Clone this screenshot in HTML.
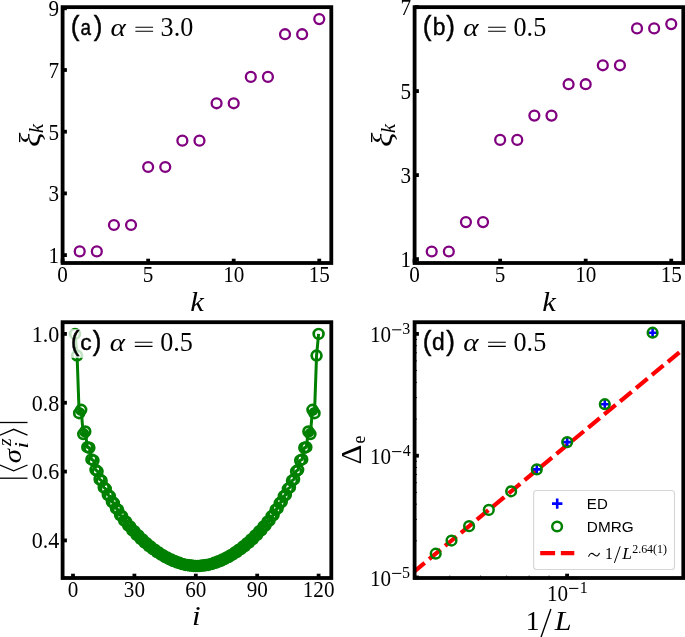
<!DOCTYPE html>
<html><head><meta charset="utf-8"><title>figure</title>
<style>html,body{margin:0;padding:0;background:#fff}body{width:685px;height:637px;overflow:hidden;font-family:"Liberation Sans",sans-serif}</style></head>
<body>
<svg width="685" height="637" viewBox="0 0 685 637" style="display:block;will-change:transform">
<rect width="685" height="637" fill="#fff"/>
<circle cx="79.71" cy="251.40" r="4.95" fill="none" stroke="#800080" stroke-width="2.3"/>
<circle cx="96.82" cy="251.40" r="4.95" fill="none" stroke="#800080" stroke-width="2.3"/>
<circle cx="113.93" cy="225.00" r="4.95" fill="none" stroke="#800080" stroke-width="2.3"/>
<circle cx="131.04" cy="225.00" r="4.95" fill="none" stroke="#800080" stroke-width="2.3"/>
<circle cx="148.15" cy="167.00" r="4.95" fill="none" stroke="#800080" stroke-width="2.3"/>
<circle cx="165.26" cy="167.00" r="4.95" fill="none" stroke="#800080" stroke-width="2.3"/>
<circle cx="182.37" cy="140.65" r="4.95" fill="none" stroke="#800080" stroke-width="2.3"/>
<circle cx="199.48" cy="140.65" r="4.95" fill="none" stroke="#800080" stroke-width="2.3"/>
<circle cx="216.59" cy="103.30" r="4.95" fill="none" stroke="#800080" stroke-width="2.3"/>
<circle cx="233.70" cy="103.30" r="4.95" fill="none" stroke="#800080" stroke-width="2.3"/>
<circle cx="250.81" cy="76.90" r="4.95" fill="none" stroke="#800080" stroke-width="2.3"/>
<circle cx="267.92" cy="76.90" r="4.95" fill="none" stroke="#800080" stroke-width="2.3"/>
<circle cx="285.03" cy="34.20" r="4.95" fill="none" stroke="#800080" stroke-width="2.3"/>
<circle cx="302.14" cy="34.20" r="4.95" fill="none" stroke="#800080" stroke-width="2.3"/>
<circle cx="319.25" cy="19.10" r="4.95" fill="none" stroke="#800080" stroke-width="2.3"/>
<rect x="62.60" y="7.15" width="268.70" height="255.85" fill="none" stroke="#000" stroke-width="3.8"/>
<line x1="62.60" y1="263.00" x2="62.60" y2="258.70" stroke="#000" stroke-width="3.8"/>
<text transform="translate(62.60,282.40) scale(0.94,1)" font-size="22.5" text-anchor="middle" font-family="Liberation Serif, serif" >0</text>
<line x1="148.15" y1="263.00" x2="148.15" y2="258.70" stroke="#000" stroke-width="3.8"/>
<text transform="translate(148.15,282.40) scale(0.94,1)" font-size="22.5" text-anchor="middle" font-family="Liberation Serif, serif" >5</text>
<line x1="233.70" y1="263.00" x2="233.70" y2="258.70" stroke="#000" stroke-width="3.8"/>
<text transform="translate(233.70,282.40) scale(0.94,1)" font-size="22.5" text-anchor="middle" font-family="Liberation Serif, serif" >10</text>
<line x1="319.25" y1="263.00" x2="319.25" y2="258.70" stroke="#000" stroke-width="3.8"/>
<text transform="translate(319.25,282.40) scale(0.94,1)" font-size="22.5" text-anchor="middle" font-family="Liberation Serif, serif" >15</text>
<line x1="62.60" y1="8.30" x2="66.90" y2="8.30" stroke="#000" stroke-width="3.8"/>
<text transform="translate(59.10,16.10) scale(0.94,1)" font-size="22.5" text-anchor="end" font-family="Liberation Serif, serif" >9</text>
<line x1="62.60" y1="70.00" x2="66.90" y2="70.00" stroke="#000" stroke-width="3.8"/>
<text transform="translate(59.10,77.80) scale(0.94,1)" font-size="22.5" text-anchor="end" font-family="Liberation Serif, serif" >7</text>
<line x1="62.60" y1="131.70" x2="66.90" y2="131.70" stroke="#000" stroke-width="3.8"/>
<text transform="translate(59.10,139.50) scale(0.94,1)" font-size="22.5" text-anchor="end" font-family="Liberation Serif, serif" >5</text>
<line x1="62.60" y1="193.40" x2="66.90" y2="193.40" stroke="#000" stroke-width="3.8"/>
<text transform="translate(59.10,201.20) scale(0.94,1)" font-size="22.5" text-anchor="end" font-family="Liberation Serif, serif" >3</text>
<line x1="62.60" y1="255.10" x2="66.90" y2="255.10" stroke="#000" stroke-width="3.8"/>
<text transform="translate(59.10,262.90) scale(0.94,1)" font-size="22.5" text-anchor="end" font-family="Liberation Serif, serif" >1</text>
<text transform="translate(190.15,310.80) scale(1.1,1.0)" font-size="27.8" font-family="Liberation Serif, serif" font-style="italic">k</text>
<g transform="translate(39.50,145.9) rotate(-90)">
<text transform="translate(-1.14,0.00) scale(1.15,1.0)" font-size="29.1" font-family="Liberation Serif, serif" font-style="italic">ξ</text>
<text x="12.92" y="3.60" font-size="20.3" font-family="Liberation Serif, serif" font-style="italic">k</text>
</g>
<circle cx="431.71" cy="251.50" r="4.95" fill="none" stroke="#800080" stroke-width="2.3"/>
<circle cx="448.82" cy="251.50" r="4.95" fill="none" stroke="#800080" stroke-width="2.3"/>
<circle cx="465.93" cy="222.10" r="4.95" fill="none" stroke="#800080" stroke-width="2.3"/>
<circle cx="483.04" cy="222.10" r="4.95" fill="none" stroke="#800080" stroke-width="2.3"/>
<circle cx="500.15" cy="139.90" r="4.95" fill="none" stroke="#800080" stroke-width="2.3"/>
<circle cx="517.26" cy="139.90" r="4.95" fill="none" stroke="#800080" stroke-width="2.3"/>
<circle cx="534.37" cy="115.60" r="4.95" fill="none" stroke="#800080" stroke-width="2.3"/>
<circle cx="551.48" cy="115.60" r="4.95" fill="none" stroke="#800080" stroke-width="2.3"/>
<circle cx="568.59" cy="84.20" r="4.95" fill="none" stroke="#800080" stroke-width="2.3"/>
<circle cx="585.70" cy="84.20" r="4.95" fill="none" stroke="#800080" stroke-width="2.3"/>
<circle cx="602.81" cy="65.30" r="4.95" fill="none" stroke="#800080" stroke-width="2.3"/>
<circle cx="619.92" cy="65.30" r="4.95" fill="none" stroke="#800080" stroke-width="2.3"/>
<circle cx="637.03" cy="28.40" r="4.95" fill="none" stroke="#800080" stroke-width="2.3"/>
<circle cx="654.14" cy="28.40" r="4.95" fill="none" stroke="#800080" stroke-width="2.3"/>
<circle cx="671.25" cy="24.10" r="4.95" fill="none" stroke="#800080" stroke-width="2.3"/>
<rect x="414.60" y="7.15" width="268.70" height="255.85" fill="none" stroke="#000" stroke-width="3.8"/>
<line x1="414.60" y1="263.00" x2="414.60" y2="258.70" stroke="#000" stroke-width="3.8"/>
<text transform="translate(414.60,282.40) scale(0.94,1)" font-size="22.5" text-anchor="middle" font-family="Liberation Serif, serif" >0</text>
<line x1="500.15" y1="263.00" x2="500.15" y2="258.70" stroke="#000" stroke-width="3.8"/>
<text transform="translate(500.15,282.40) scale(0.94,1)" font-size="22.5" text-anchor="middle" font-family="Liberation Serif, serif" >5</text>
<line x1="585.70" y1="263.00" x2="585.70" y2="258.70" stroke="#000" stroke-width="3.8"/>
<text transform="translate(585.70,282.40) scale(0.94,1)" font-size="22.5" text-anchor="middle" font-family="Liberation Serif, serif" >10</text>
<line x1="671.25" y1="263.00" x2="671.25" y2="258.70" stroke="#000" stroke-width="3.8"/>
<text transform="translate(671.25,282.40) scale(0.94,1)" font-size="22.5" text-anchor="middle" font-family="Liberation Serif, serif" >15</text>
<line x1="414.60" y1="7.15" x2="418.90" y2="7.15" stroke="#000" stroke-width="3.8"/>
<text transform="translate(411.10,14.95) scale(0.94,1)" font-size="22.5" text-anchor="end" font-family="Liberation Serif, serif" >7</text>
<line x1="414.60" y1="91.10" x2="418.90" y2="91.10" stroke="#000" stroke-width="3.8"/>
<text transform="translate(411.10,98.90) scale(0.94,1)" font-size="22.5" text-anchor="end" font-family="Liberation Serif, serif" >5</text>
<line x1="414.60" y1="175.10" x2="418.90" y2="175.10" stroke="#000" stroke-width="3.8"/>
<text transform="translate(411.10,182.90) scale(0.94,1)" font-size="22.5" text-anchor="end" font-family="Liberation Serif, serif" >3</text>
<line x1="414.60" y1="259.10" x2="418.90" y2="259.10" stroke="#000" stroke-width="3.8"/>
<text transform="translate(411.10,266.90) scale(0.94,1)" font-size="22.5" text-anchor="end" font-family="Liberation Serif, serif" >1</text>
<text transform="translate(542.15,310.80) scale(1.1,1.0)" font-size="27.8" font-family="Liberation Serif, serif" font-style="italic">k</text>
<g transform="translate(391.50,145.9) rotate(-90)">
<text transform="translate(-1.14,0.00) scale(1.15,1.0)" font-size="29.1" font-family="Liberation Serif, serif" font-style="italic">ξ</text>
<text x="12.92" y="3.60" font-size="20.3" font-family="Liberation Serif, serif" font-style="italic">k</text>
</g>
<text transform="translate(70.68,35.00) scale(0.92,1.0)" font-size="28.4" font-family="Liberation Sans, sans-serif" stroke="#000" stroke-width="0.45">(</text>
<text transform="translate(80.50,34.60) scale(0.83,1.0)" font-size="22.8" font-family="Liberation Sans, sans-serif" stroke="#000" stroke-width="0.4">a</text>
<text transform="translate(93.65,35.00) scale(0.92,1.0)" font-size="28.4" font-family="Liberation Sans, sans-serif" stroke="#000" stroke-width="0.45">)</text>
<text transform="translate(110.43,35.50) scale(1.12,1.0)" font-size="26" font-family="Liberation Serif, serif" font-style="italic">α</text>
<path d="M135.40,27.20h17.7M135.40,31.30h17.7" stroke="#000" stroke-width="1.05" fill="none"/>
<text transform="translate(160.55,35.50) scale(0.97,1.0)" font-size="27" font-family="Liberation Serif, serif">3.0</text>
<text transform="translate(422.68,35.00) scale(0.92,1.0)" font-size="28.4" font-family="Liberation Sans, sans-serif" stroke="#000" stroke-width="0.45">(</text>
<text transform="translate(432.83,34.60) scale(1.0,1.086)" font-size="22.8" font-family="Liberation Sans, sans-serif" stroke="#000" stroke-width="0.4">b</text>
<text transform="translate(446.15,35.00) scale(0.92,1.0)" font-size="28.4" font-family="Liberation Sans, sans-serif" stroke="#000" stroke-width="0.45">)</text>
<text transform="translate(463.13,35.50) scale(1.12,1.0)" font-size="26" font-family="Liberation Serif, serif" font-style="italic">α</text>
<path d="M488.10,27.20h17.7M488.10,31.30h17.7" stroke="#000" stroke-width="1.05" fill="none"/>
<text transform="translate(513.50,35.50) scale(0.97,1.0)" font-size="27" font-family="Liberation Serif, serif">0.5</text>
<clipPath id="cc"><rect x="62.6" y="322.2" width="268.7" height="255.8"/></clipPath>
<g clip-path="url(#cc)">
<polyline fill="none" stroke="#008000" stroke-width="3.0" stroke-linejoin="round" points="75.05,333.90 77.09,355.58 79.14,413.17 81.19,409.87 83.23,434.09 85.28,431.49 87.33,447.19 89.37,447.79 91.42,459.38 93.47,460.38 95.51,469.80 97.56,471.30 99.61,479.26 101.65,480.76 103.70,487.35 105.75,488.85 107.79,494.76 109.84,496.18 111.89,501.72 113.93,503.06 115.98,508.35 118.03,509.68 120.07,514.98 122.12,516.20 124.17,520.65 126.21,521.69 128.26,525.64 130.31,526.60 132.35,530.35 134.40,531.25 136.45,534.71 138.49,535.53 140.54,538.72 142.59,539.50 144.63,542.50 146.68,543.22 148.73,545.96 150.77,546.62 152.82,549.13 154.87,549.74 156.91,552.06 158.96,552.61 161.01,554.69 163.05,555.17 165.10,557.02 167.15,557.46 169.19,559.15 171.24,559.54 173.29,560.97 175.33,561.30 177.38,562.50 179.43,562.80 181.48,563.90 183.52,564.14 185.57,564.94 187.62,565.08 189.66,565.52 191.71,565.61 193.76,565.91 195.80,565.96 197.85,565.96 199.90,565.91 201.94,565.61 203.99,565.52 206.04,565.08 208.08,564.94 210.13,564.14 212.18,563.90 214.22,562.80 216.27,562.50 218.32,561.30 220.36,560.97 222.41,559.54 224.46,559.15 226.50,557.46 228.55,557.02 230.60,555.17 232.64,554.69 234.69,552.61 236.74,552.06 238.78,549.74 240.83,549.13 242.88,546.62 244.92,545.96 246.97,543.22 249.02,542.50 251.06,539.50 253.11,538.72 255.16,535.53 257.20,534.71 259.25,531.25 261.30,530.35 263.34,526.60 265.39,525.64 267.44,521.69 269.48,520.65 271.53,516.20 273.58,514.98 275.62,509.68 277.67,508.35 279.72,503.06 281.76,501.72 283.81,496.18 285.86,494.76 287.90,488.85 289.95,487.35 292.00,480.76 294.04,479.26 296.09,471.30 298.14,469.80 300.18,460.38 302.23,459.38 304.28,447.79 306.32,447.19 308.37,431.49 310.42,434.09 312.46,409.87 314.51,413.17 316.56,355.58 318.60,333.90"/>
<circle cx="75.05" cy="333.90" r="4.9" fill="none" stroke="#008000" stroke-width="2.7"/>
<circle cx="77.09" cy="355.58" r="4.9" fill="none" stroke="#008000" stroke-width="2.7"/>
<circle cx="79.14" cy="413.17" r="4.9" fill="none" stroke="#008000" stroke-width="2.7"/>
<circle cx="81.19" cy="409.87" r="4.9" fill="none" stroke="#008000" stroke-width="2.7"/>
<circle cx="83.23" cy="434.09" r="4.9" fill="none" stroke="#008000" stroke-width="2.7"/>
<circle cx="85.28" cy="431.49" r="4.9" fill="none" stroke="#008000" stroke-width="2.7"/>
<circle cx="87.33" cy="447.19" r="4.9" fill="none" stroke="#008000" stroke-width="2.7"/>
<circle cx="89.37" cy="447.79" r="4.9" fill="none" stroke="#008000" stroke-width="2.7"/>
<circle cx="91.42" cy="459.38" r="4.9" fill="none" stroke="#008000" stroke-width="2.7"/>
<circle cx="93.47" cy="460.38" r="4.9" fill="none" stroke="#008000" stroke-width="2.7"/>
<circle cx="95.51" cy="469.80" r="4.9" fill="none" stroke="#008000" stroke-width="2.7"/>
<circle cx="97.56" cy="471.30" r="4.9" fill="none" stroke="#008000" stroke-width="2.7"/>
<circle cx="99.61" cy="479.26" r="4.9" fill="none" stroke="#008000" stroke-width="2.7"/>
<circle cx="101.65" cy="480.76" r="4.9" fill="none" stroke="#008000" stroke-width="2.7"/>
<circle cx="103.70" cy="487.35" r="4.9" fill="none" stroke="#008000" stroke-width="2.7"/>
<circle cx="105.75" cy="488.85" r="4.9" fill="none" stroke="#008000" stroke-width="2.7"/>
<circle cx="107.79" cy="494.76" r="4.9" fill="none" stroke="#008000" stroke-width="2.7"/>
<circle cx="109.84" cy="496.18" r="4.9" fill="none" stroke="#008000" stroke-width="2.7"/>
<circle cx="111.89" cy="501.72" r="4.9" fill="none" stroke="#008000" stroke-width="2.7"/>
<circle cx="113.93" cy="503.06" r="4.9" fill="none" stroke="#008000" stroke-width="2.7"/>
<circle cx="115.98" cy="508.35" r="4.9" fill="none" stroke="#008000" stroke-width="2.7"/>
<circle cx="118.03" cy="509.68" r="4.9" fill="none" stroke="#008000" stroke-width="2.7"/>
<circle cx="120.07" cy="514.98" r="4.9" fill="none" stroke="#008000" stroke-width="2.7"/>
<circle cx="122.12" cy="516.20" r="4.9" fill="none" stroke="#008000" stroke-width="2.7"/>
<circle cx="124.17" cy="520.65" r="4.9" fill="none" stroke="#008000" stroke-width="2.7"/>
<circle cx="126.21" cy="521.69" r="4.9" fill="none" stroke="#008000" stroke-width="2.7"/>
<circle cx="128.26" cy="525.64" r="4.9" fill="none" stroke="#008000" stroke-width="2.7"/>
<circle cx="130.31" cy="526.60" r="4.9" fill="none" stroke="#008000" stroke-width="2.7"/>
<circle cx="132.35" cy="530.35" r="4.9" fill="none" stroke="#008000" stroke-width="2.7"/>
<circle cx="134.40" cy="531.25" r="4.9" fill="none" stroke="#008000" stroke-width="2.7"/>
<circle cx="136.45" cy="534.71" r="4.9" fill="none" stroke="#008000" stroke-width="2.7"/>
<circle cx="138.49" cy="535.53" r="4.9" fill="none" stroke="#008000" stroke-width="2.7"/>
<circle cx="140.54" cy="538.72" r="4.9" fill="none" stroke="#008000" stroke-width="2.7"/>
<circle cx="142.59" cy="539.50" r="4.9" fill="none" stroke="#008000" stroke-width="2.7"/>
<circle cx="144.63" cy="542.50" r="4.9" fill="none" stroke="#008000" stroke-width="2.7"/>
<circle cx="146.68" cy="543.22" r="4.9" fill="none" stroke="#008000" stroke-width="2.7"/>
<circle cx="148.73" cy="545.96" r="4.9" fill="none" stroke="#008000" stroke-width="2.7"/>
<circle cx="150.77" cy="546.62" r="4.9" fill="none" stroke="#008000" stroke-width="2.7"/>
<circle cx="152.82" cy="549.13" r="4.9" fill="none" stroke="#008000" stroke-width="2.7"/>
<circle cx="154.87" cy="549.74" r="4.9" fill="none" stroke="#008000" stroke-width="2.7"/>
<circle cx="156.91" cy="552.06" r="4.9" fill="none" stroke="#008000" stroke-width="2.7"/>
<circle cx="158.96" cy="552.61" r="4.9" fill="none" stroke="#008000" stroke-width="2.7"/>
<circle cx="161.01" cy="554.69" r="4.9" fill="none" stroke="#008000" stroke-width="2.7"/>
<circle cx="163.05" cy="555.17" r="4.9" fill="none" stroke="#008000" stroke-width="2.7"/>
<circle cx="165.10" cy="557.02" r="4.9" fill="none" stroke="#008000" stroke-width="2.7"/>
<circle cx="167.15" cy="557.46" r="4.9" fill="none" stroke="#008000" stroke-width="2.7"/>
<circle cx="169.19" cy="559.15" r="4.9" fill="none" stroke="#008000" stroke-width="2.7"/>
<circle cx="171.24" cy="559.54" r="4.9" fill="none" stroke="#008000" stroke-width="2.7"/>
<circle cx="173.29" cy="560.97" r="4.9" fill="none" stroke="#008000" stroke-width="2.7"/>
<circle cx="175.33" cy="561.30" r="4.9" fill="none" stroke="#008000" stroke-width="2.7"/>
<circle cx="177.38" cy="562.50" r="4.9" fill="none" stroke="#008000" stroke-width="2.7"/>
<circle cx="179.43" cy="562.80" r="4.9" fill="none" stroke="#008000" stroke-width="2.7"/>
<circle cx="181.48" cy="563.90" r="4.9" fill="none" stroke="#008000" stroke-width="2.7"/>
<circle cx="183.52" cy="564.14" r="4.9" fill="none" stroke="#008000" stroke-width="2.7"/>
<circle cx="185.57" cy="564.94" r="4.9" fill="none" stroke="#008000" stroke-width="2.7"/>
<circle cx="187.62" cy="565.08" r="4.9" fill="none" stroke="#008000" stroke-width="2.7"/>
<circle cx="189.66" cy="565.52" r="4.9" fill="none" stroke="#008000" stroke-width="2.7"/>
<circle cx="191.71" cy="565.61" r="4.9" fill="none" stroke="#008000" stroke-width="2.7"/>
<circle cx="193.76" cy="565.91" r="4.9" fill="none" stroke="#008000" stroke-width="2.7"/>
<circle cx="195.80" cy="565.96" r="4.9" fill="none" stroke="#008000" stroke-width="2.7"/>
<circle cx="197.85" cy="565.96" r="4.9" fill="none" stroke="#008000" stroke-width="2.7"/>
<circle cx="199.90" cy="565.91" r="4.9" fill="none" stroke="#008000" stroke-width="2.7"/>
<circle cx="201.94" cy="565.61" r="4.9" fill="none" stroke="#008000" stroke-width="2.7"/>
<circle cx="203.99" cy="565.52" r="4.9" fill="none" stroke="#008000" stroke-width="2.7"/>
<circle cx="206.04" cy="565.08" r="4.9" fill="none" stroke="#008000" stroke-width="2.7"/>
<circle cx="208.08" cy="564.94" r="4.9" fill="none" stroke="#008000" stroke-width="2.7"/>
<circle cx="210.13" cy="564.14" r="4.9" fill="none" stroke="#008000" stroke-width="2.7"/>
<circle cx="212.18" cy="563.90" r="4.9" fill="none" stroke="#008000" stroke-width="2.7"/>
<circle cx="214.22" cy="562.80" r="4.9" fill="none" stroke="#008000" stroke-width="2.7"/>
<circle cx="216.27" cy="562.50" r="4.9" fill="none" stroke="#008000" stroke-width="2.7"/>
<circle cx="218.32" cy="561.30" r="4.9" fill="none" stroke="#008000" stroke-width="2.7"/>
<circle cx="220.36" cy="560.97" r="4.9" fill="none" stroke="#008000" stroke-width="2.7"/>
<circle cx="222.41" cy="559.54" r="4.9" fill="none" stroke="#008000" stroke-width="2.7"/>
<circle cx="224.46" cy="559.15" r="4.9" fill="none" stroke="#008000" stroke-width="2.7"/>
<circle cx="226.50" cy="557.46" r="4.9" fill="none" stroke="#008000" stroke-width="2.7"/>
<circle cx="228.55" cy="557.02" r="4.9" fill="none" stroke="#008000" stroke-width="2.7"/>
<circle cx="230.60" cy="555.17" r="4.9" fill="none" stroke="#008000" stroke-width="2.7"/>
<circle cx="232.64" cy="554.69" r="4.9" fill="none" stroke="#008000" stroke-width="2.7"/>
<circle cx="234.69" cy="552.61" r="4.9" fill="none" stroke="#008000" stroke-width="2.7"/>
<circle cx="236.74" cy="552.06" r="4.9" fill="none" stroke="#008000" stroke-width="2.7"/>
<circle cx="238.78" cy="549.74" r="4.9" fill="none" stroke="#008000" stroke-width="2.7"/>
<circle cx="240.83" cy="549.13" r="4.9" fill="none" stroke="#008000" stroke-width="2.7"/>
<circle cx="242.88" cy="546.62" r="4.9" fill="none" stroke="#008000" stroke-width="2.7"/>
<circle cx="244.92" cy="545.96" r="4.9" fill="none" stroke="#008000" stroke-width="2.7"/>
<circle cx="246.97" cy="543.22" r="4.9" fill="none" stroke="#008000" stroke-width="2.7"/>
<circle cx="249.02" cy="542.50" r="4.9" fill="none" stroke="#008000" stroke-width="2.7"/>
<circle cx="251.06" cy="539.50" r="4.9" fill="none" stroke="#008000" stroke-width="2.7"/>
<circle cx="253.11" cy="538.72" r="4.9" fill="none" stroke="#008000" stroke-width="2.7"/>
<circle cx="255.16" cy="535.53" r="4.9" fill="none" stroke="#008000" stroke-width="2.7"/>
<circle cx="257.20" cy="534.71" r="4.9" fill="none" stroke="#008000" stroke-width="2.7"/>
<circle cx="259.25" cy="531.25" r="4.9" fill="none" stroke="#008000" stroke-width="2.7"/>
<circle cx="261.30" cy="530.35" r="4.9" fill="none" stroke="#008000" stroke-width="2.7"/>
<circle cx="263.34" cy="526.60" r="4.9" fill="none" stroke="#008000" stroke-width="2.7"/>
<circle cx="265.39" cy="525.64" r="4.9" fill="none" stroke="#008000" stroke-width="2.7"/>
<circle cx="267.44" cy="521.69" r="4.9" fill="none" stroke="#008000" stroke-width="2.7"/>
<circle cx="269.48" cy="520.65" r="4.9" fill="none" stroke="#008000" stroke-width="2.7"/>
<circle cx="271.53" cy="516.20" r="4.9" fill="none" stroke="#008000" stroke-width="2.7"/>
<circle cx="273.58" cy="514.98" r="4.9" fill="none" stroke="#008000" stroke-width="2.7"/>
<circle cx="275.62" cy="509.68" r="4.9" fill="none" stroke="#008000" stroke-width="2.7"/>
<circle cx="277.67" cy="508.35" r="4.9" fill="none" stroke="#008000" stroke-width="2.7"/>
<circle cx="279.72" cy="503.06" r="4.9" fill="none" stroke="#008000" stroke-width="2.7"/>
<circle cx="281.76" cy="501.72" r="4.9" fill="none" stroke="#008000" stroke-width="2.7"/>
<circle cx="283.81" cy="496.18" r="4.9" fill="none" stroke="#008000" stroke-width="2.7"/>
<circle cx="285.86" cy="494.76" r="4.9" fill="none" stroke="#008000" stroke-width="2.7"/>
<circle cx="287.90" cy="488.85" r="4.9" fill="none" stroke="#008000" stroke-width="2.7"/>
<circle cx="289.95" cy="487.35" r="4.9" fill="none" stroke="#008000" stroke-width="2.7"/>
<circle cx="292.00" cy="480.76" r="4.9" fill="none" stroke="#008000" stroke-width="2.7"/>
<circle cx="294.04" cy="479.26" r="4.9" fill="none" stroke="#008000" stroke-width="2.7"/>
<circle cx="296.09" cy="471.30" r="4.9" fill="none" stroke="#008000" stroke-width="2.7"/>
<circle cx="298.14" cy="469.80" r="4.9" fill="none" stroke="#008000" stroke-width="2.7"/>
<circle cx="300.18" cy="460.38" r="4.9" fill="none" stroke="#008000" stroke-width="2.7"/>
<circle cx="302.23" cy="459.38" r="4.9" fill="none" stroke="#008000" stroke-width="2.7"/>
<circle cx="304.28" cy="447.79" r="4.9" fill="none" stroke="#008000" stroke-width="2.7"/>
<circle cx="306.32" cy="447.19" r="4.9" fill="none" stroke="#008000" stroke-width="2.7"/>
<circle cx="308.37" cy="431.49" r="4.9" fill="none" stroke="#008000" stroke-width="2.7"/>
<circle cx="310.42" cy="434.09" r="4.9" fill="none" stroke="#008000" stroke-width="2.7"/>
<circle cx="312.46" cy="409.87" r="4.9" fill="none" stroke="#008000" stroke-width="2.7"/>
<circle cx="314.51" cy="413.17" r="4.9" fill="none" stroke="#008000" stroke-width="2.7"/>
<circle cx="316.56" cy="355.58" r="4.9" fill="none" stroke="#008000" stroke-width="2.7"/>
<circle cx="318.60" cy="333.90" r="4.9" fill="none" stroke="#008000" stroke-width="2.7"/>
</g>
<rect x="62.60" y="322.20" width="268.70" height="255.80" fill="none" stroke="#000" stroke-width="3.8"/>
<line x1="73.00" y1="578.00" x2="73.00" y2="573.70" stroke="#000" stroke-width="3.8"/>
<text transform="translate(73.00,597.40) scale(0.94,1)" font-size="22.5" text-anchor="middle" font-family="Liberation Serif, serif" >0</text>
<line x1="134.40" y1="578.00" x2="134.40" y2="573.70" stroke="#000" stroke-width="3.8"/>
<text transform="translate(134.40,597.40) scale(0.94,1)" font-size="22.5" text-anchor="middle" font-family="Liberation Serif, serif" >30</text>
<line x1="195.80" y1="578.00" x2="195.80" y2="573.70" stroke="#000" stroke-width="3.8"/>
<text transform="translate(195.80,597.40) scale(0.94,1)" font-size="22.5" text-anchor="middle" font-family="Liberation Serif, serif" >60</text>
<line x1="257.20" y1="578.00" x2="257.20" y2="573.70" stroke="#000" stroke-width="3.8"/>
<text transform="translate(257.20,597.40) scale(0.94,1)" font-size="22.5" text-anchor="middle" font-family="Liberation Serif, serif" >90</text>
<line x1="318.60" y1="578.00" x2="318.60" y2="573.70" stroke="#000" stroke-width="3.8"/>
<text transform="translate(318.60,597.40) scale(0.94,1)" font-size="22.5" text-anchor="middle" font-family="Liberation Serif, serif" >120</text>
<line x1="62.60" y1="333.90" x2="66.90" y2="333.90" stroke="#000" stroke-width="3.8"/>
<text transform="translate(59.30,341.70) scale(0.98,1)" font-size="22.5" text-anchor="end" font-family="Liberation Serif, serif" >1.0</text>
<line x1="62.60" y1="402.74" x2="66.90" y2="402.74" stroke="#000" stroke-width="3.8"/>
<text transform="translate(59.30,410.54) scale(0.98,1)" font-size="22.5" text-anchor="end" font-family="Liberation Serif, serif" >0.8</text>
<line x1="62.60" y1="471.58" x2="66.90" y2="471.58" stroke="#000" stroke-width="3.8"/>
<text transform="translate(59.30,479.38) scale(0.98,1)" font-size="22.5" text-anchor="end" font-family="Liberation Serif, serif" >0.6</text>
<line x1="62.60" y1="540.42" x2="66.90" y2="540.42" stroke="#000" stroke-width="3.8"/>
<text transform="translate(59.30,548.22) scale(0.98,1)" font-size="22.5" text-anchor="end" font-family="Liberation Serif, serif" >0.4</text>
<text transform="translate(191.99,625.20) scale(1.15,1.0)" font-size="27" font-family="Liberation Serif, serif" font-style="italic">i</text>
<rect x="68.40" y="329.10" width="125.6" height="28.8" fill="#fff" fill-opacity="0.76"/>
<text transform="translate(70.68,350.05) scale(0.92,1.0)" font-size="28.4" font-family="Liberation Sans, sans-serif" stroke="#000" stroke-width="0.45">(</text>
<text x="80.23" y="349.65" font-size="22.8" font-family="Liberation Sans, sans-serif" stroke="#000" stroke-width="0.4">c</text>
<text transform="translate(92.65,350.05) scale(0.92,1.0)" font-size="28.4" font-family="Liberation Sans, sans-serif" stroke="#000" stroke-width="0.45">)</text>
<text transform="translate(109.83,350.55) scale(1.12,1.0)" font-size="26" font-family="Liberation Serif, serif" font-style="italic">α</text>
<path d="M134.80,342.25h17.7M134.80,346.35h17.7" stroke="#000" stroke-width="1.05" fill="none"/>
<text transform="translate(160.20,350.55) scale(0.97,1.0)" font-size="27" font-family="Liberation Serif, serif">0.5</text>
<g transform="translate(20.7,450.35) rotate(-90)">
<g stroke="#000" fill="none" stroke-width="1.3">
<line x1="-27.85" y1="6.8" x2="-27.85" y2="-21"/>
<line x1="27.85" y1="6.8" x2="27.85" y2="-21"/>
<polyline points="-14.65,-20.8 -20.45,-7 -14.65,6.8"/>
<polyline points="15.15,-20.8 21.05,-7 15.15,6.8"/>
</g>
<text transform="translate(-12.81,-0.20) scale(1.15,1.0)" font-size="25" font-family="Liberation Serif, serif" font-style="italic">σ</text>
<text x="4.37" y="-9.80" font-size="19.8" font-family="Liberation Serif, serif" font-style="italic">z</text>
<text transform="translate(1.88,7.50) scale(1.2,1.0)" font-size="19.8" font-family="Liberation Serif, serif" font-style="italic">i</text>
</g>
<clipPath id="cd"><rect x="414.6" y="322.2" width="268.69999999999993" height="255.8"/></clipPath>
<g clip-path="url(#cd)">
<line x1="413.2" y1="572.30" x2="700" y2="335.26" stroke="#f00" stroke-width="4.2" stroke-dasharray="14.9 5.75"/>
<path d="M647.40,332.70H657.80M652.60,327.50V337.90" stroke="#00f" stroke-width="2.6" fill="none"/>
<path d="M599.60,404.20H610.00M604.80,399.00V409.40" stroke="#00f" stroke-width="2.6" fill="none"/>
<path d="M562.00,442.10H572.40M567.20,436.90V447.30" stroke="#00f" stroke-width="2.6" fill="none"/>
<path d="M531.60,469.40H542.00M536.80,464.20V474.60" stroke="#00f" stroke-width="2.6" fill="none"/>
<circle cx="652.60" cy="332.70" r="4.85" fill="none" stroke="#008000" stroke-width="2.5"/>
<circle cx="604.80" cy="404.20" r="4.85" fill="none" stroke="#008000" stroke-width="2.5"/>
<circle cx="567.20" cy="442.10" r="4.85" fill="none" stroke="#008000" stroke-width="2.5"/>
<circle cx="536.80" cy="469.40" r="4.85" fill="none" stroke="#008000" stroke-width="2.5"/>
<circle cx="511.15" cy="491.30" r="4.85" fill="none" stroke="#008000" stroke-width="2.5"/>
<circle cx="488.80" cy="509.90" r="4.85" fill="none" stroke="#008000" stroke-width="2.5"/>
<circle cx="469.10" cy="526.15" r="4.85" fill="none" stroke="#008000" stroke-width="2.5"/>
<circle cx="451.50" cy="540.55" r="4.85" fill="none" stroke="#008000" stroke-width="2.5"/>
<circle cx="435.70" cy="553.70" r="4.85" fill="none" stroke="#008000" stroke-width="2.5"/>
</g>
<line x1="414.60" y1="540.83" x2="417.00" y2="540.83" stroke="#000" stroke-width="0.9"/>
<line x1="414.60" y1="519.39" x2="417.00" y2="519.39" stroke="#000" stroke-width="0.9"/>
<line x1="414.60" y1="504.17" x2="417.00" y2="504.17" stroke="#000" stroke-width="0.9"/>
<line x1="414.60" y1="492.37" x2="417.00" y2="492.37" stroke="#000" stroke-width="0.9"/>
<line x1="414.60" y1="482.72" x2="417.00" y2="482.72" stroke="#000" stroke-width="0.9"/>
<line x1="414.60" y1="474.57" x2="417.00" y2="474.57" stroke="#000" stroke-width="0.9"/>
<line x1="414.60" y1="467.50" x2="417.00" y2="467.50" stroke="#000" stroke-width="0.9"/>
<line x1="414.60" y1="461.27" x2="417.00" y2="461.27" stroke="#000" stroke-width="0.9"/>
<line x1="414.60" y1="419.03" x2="417.00" y2="419.03" stroke="#000" stroke-width="0.9"/>
<line x1="414.60" y1="397.59" x2="417.00" y2="397.59" stroke="#000" stroke-width="0.9"/>
<line x1="414.60" y1="382.37" x2="417.00" y2="382.37" stroke="#000" stroke-width="0.9"/>
<line x1="414.60" y1="370.57" x2="417.00" y2="370.57" stroke="#000" stroke-width="0.9"/>
<line x1="414.60" y1="360.92" x2="417.00" y2="360.92" stroke="#000" stroke-width="0.9"/>
<line x1="414.60" y1="352.77" x2="417.00" y2="352.77" stroke="#000" stroke-width="0.9"/>
<line x1="414.60" y1="345.70" x2="417.00" y2="345.70" stroke="#000" stroke-width="0.9"/>
<line x1="414.60" y1="339.47" x2="417.00" y2="339.47" stroke="#000" stroke-width="0.9"/>
<line x1="449.80" y1="578.00" x2="449.80" y2="575.60" stroke="#000" stroke-width="0.9"/>
<line x1="480.60" y1="578.00" x2="480.60" y2="575.60" stroke="#000" stroke-width="0.9"/>
<line x1="506.64" y1="578.00" x2="506.64" y2="575.60" stroke="#000" stroke-width="0.9"/>
<line x1="529.20" y1="578.00" x2="529.20" y2="575.60" stroke="#000" stroke-width="0.9"/>
<line x1="549.10" y1="578.00" x2="549.10" y2="575.60" stroke="#000" stroke-width="0.9"/>
<rect x="414.60" y="322.20" width="268.70" height="255.80" fill="none" stroke="#000" stroke-width="3.8"/>
<line x1="567.10" y1="578.00" x2="567.10" y2="573.70" stroke="#000" stroke-width="3.8"/>
<line x1="414.60" y1="333.90" x2="418.90" y2="333.90" stroke="#000" stroke-width="3.8"/>
<text transform="translate(369.94,342.20) scale(0.94,1.0)" font-size="22.5" font-family="Liberation Serif, serif">10</text>
<line x1="392.10" y1="329.80" x2="401.30" y2="329.80" stroke="#000" stroke-width="1.05"/>
<text x="402.23" y="334.30" font-size="16" font-family="Liberation Serif, serif">3</text>
<line x1="414.60" y1="455.70" x2="418.90" y2="455.70" stroke="#000" stroke-width="3.8"/>
<text transform="translate(369.94,464.00) scale(0.94,1.0)" font-size="22.5" font-family="Liberation Serif, serif">10</text>
<line x1="392.10" y1="451.60" x2="401.30" y2="451.60" stroke="#000" stroke-width="1.05"/>
<text x="402.69" y="456.10" font-size="16" font-family="Liberation Serif, serif">4</text>
<line x1="414.60" y1="577.50" x2="418.90" y2="577.50" stroke="#000" stroke-width="3.8"/>
<text transform="translate(369.94,585.80) scale(0.94,1.0)" font-size="22.5" font-family="Liberation Serif, serif">10</text>
<line x1="392.10" y1="573.40" x2="401.30" y2="573.40" stroke="#000" stroke-width="1.05"/>
<text x="402.07" y="577.90" font-size="16" font-family="Liberation Serif, serif">5</text>
<text transform="translate(546.94,600.80) scale(0.94,1.0)" font-size="22.5" font-family="Liberation Serif, serif">10</text>
<line x1="569.10" y1="588.40" x2="578.30" y2="588.40" stroke="#000" stroke-width="1.05"/>
<text x="579.79" y="592.90" font-size="16" font-family="Liberation Serif, serif">1</text>
<text x="525.87" y="629.80" font-size="27.6" font-family="Liberation Serif, serif">1</text>
<line x1="550.9" y1="608.9" x2="540.4" y2="639" stroke="#000" stroke-width="1.4"/>
<text transform="translate(554.65,629.80) scale(1.08,1.0)" font-size="28" font-family="Liberation Serif, serif" font-style="italic">L</text>
<text transform="translate(422.68,350.05) scale(0.92,1.0)" font-size="28.4" font-family="Liberation Sans, sans-serif" stroke="#000" stroke-width="0.45">(</text>
<text transform="translate(432.04,349.65) scale(1.0,1.086)" font-size="22.8" font-family="Liberation Sans, sans-serif" stroke="#000" stroke-width="0.4">d</text>
<text transform="translate(446.15,350.05) scale(0.92,1.0)" font-size="28.4" font-family="Liberation Sans, sans-serif" stroke="#000" stroke-width="0.45">)</text>
<text transform="translate(463.13,350.55) scale(1.12,1.0)" font-size="26" font-family="Liberation Serif, serif" font-style="italic">α</text>
<path d="M488.10,342.25h17.7M488.10,346.35h17.7" stroke="#000" stroke-width="1.05" fill="none"/>
<text transform="translate(513.50,350.55) scale(0.97,1.0)" font-size="27" font-family="Liberation Serif, serif">0.5</text>
<g transform="translate(360.8,463.4) rotate(-90)">
<text transform="translate(-1.18,0.00) scale(1.04,1.0)" font-size="29.8" font-family="Liberation Serif, serif">Δ</text>
<text transform="translate(20.01,4.20) scale(0.9,1.0)" font-size="19.5" font-family="Liberation Serif, serif">e</text>
</g>
<rect x="533.6" y="490.5" width="140.9" height="79" rx="3" ry="3" fill="#fff" fill-opacity="0.8" stroke="#ccc" stroke-opacity="0.8" stroke-width="1.1"/>
<path d="M552.00,503.60H562.40M557.20,498.40V508.80" stroke="#00f" stroke-width="2.6" fill="none"/>
<circle cx="557.10" cy="526.50" r="4.85" fill="none" stroke="#008000" stroke-width="2.5"/>
<line x1="540.2" y1="553.1" x2="574.3" y2="553.1" stroke="#f00" stroke-width="4.2" stroke-dasharray="14.9 5.75"/>
<text transform="translate(586.87,508.80) scale(0.97,1.0)" font-size="15.5" font-family="Liberation Sans, sans-serif">ED</text>
<text transform="translate(586.84,531.90) scale(0.99,1.0)" font-size="15.5" font-family="Liberation Sans, sans-serif">DMRG</text>
<text x="604.92" y="559.00" font-size="15.7" font-family="Liberation Serif, serif">1</text>
<line x1="620.2" y1="546.3" x2="614.4" y2="562.9" stroke="#000" stroke-width="1.0"/>
<text transform="translate(622.31,559.00) scale(1.12,1.0)" font-size="15.7" font-family="Liberation Serif, serif" font-style="italic">L</text>
<text transform="translate(632.17,552.60) scale(1.04,1.0)" font-size="11.5" font-family="Liberation Serif, serif">2.64(1)</text>
<path d="M588.5,556.6 c1.2,-3.6 3.6,-4 5.6,-1.9 s4.4,1.7 5.4,-1.9" fill="none" stroke="#000" stroke-width="1.15"/>
</svg>
</body></html>
